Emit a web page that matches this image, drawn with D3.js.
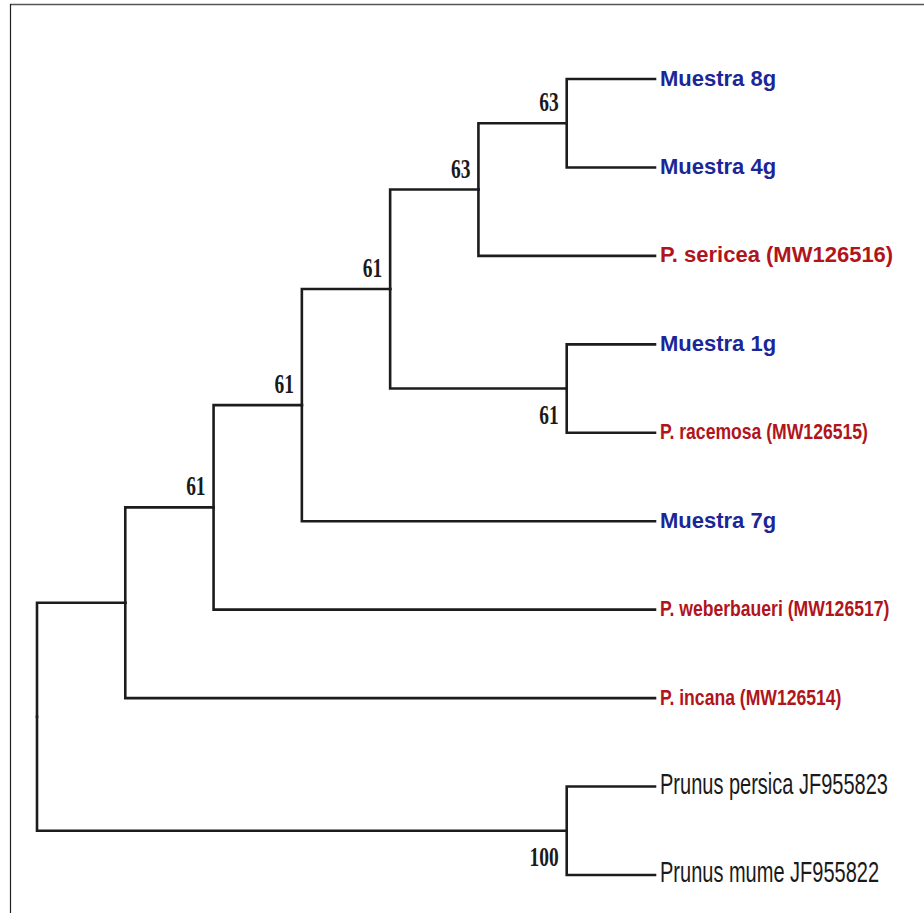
<!DOCTYPE html>
<html>
<head>
<meta charset="utf-8">
<script src="https://cdn.jsdelivr.net/npm/d3@7"></script>
<style>
  html, body { margin: 0; padding: 0; background: #fff; }
  svg { display: block; }
</style>
</head>
<body>
<svg id="tree-svg" width="924" height="913"></svg>
<script>
// tree topology: every node and its parent, listed top to bottom
const nodeIds = [
  "root", "n1", "n2", "n3", "n4", "n5", "n6",
  "Muestra 8g", "Muestra 4g", "P. sericea (MW126516)",
  "n7", "Muestra 1g", "P. racemosa (MW126515)",
  "Muestra 7g", "P. weberbaueri (MW126517)", "P. incana (MW126514)",
  "n8", "Prunus persica JF955823", "Prunus mume JF955822",
];
const parentIds = [
  "", "root", "n1", "n2", "n3", "n4", "n5",
  "n6", "n6", "n5",
  "n4", "n7", "n7",
  "n3", "n2", "n1",
  "root", "n8", "n8",
];
// bootstrap support per node (null = not shown)
const support = [
  null, null, 61, 61, 61, 63, 63,
  null, null, null,
  61, null, null,
  null, null, null,
  100, null, null,
];

const sampleTaxa = ["Muestra 8g", "Muestra 4g", "Muestra 1g", "Muestra 7g"];
const referenceTaxa = [
  "P. sericea (MW126516)", "P. racemosa (MW126515)",
  "P. weberbaueri (MW126517)", "P. incana (MW126514)",
];
const outgroupTaxa = ["Prunus persica JF955823", "Prunus mume JF955822"];

const svg = d3.select("#tree-svg");

const rows = nodeIds.map((id, i) => ({ id, parent: parentIds[i] || null, support: support[i] }));
const root = d3.stratify().id((d) => d.id).parentId((d) => d.parent)(rows);

d3.cluster().size([1, 1]).separation(() => 1)(root);

const xScale = d3.scaleLinear().domain([0, 1]).range([37, 655]);
const yScale = d3.scaleLinear()
  .domain(d3.extent(root.leaves(), (d) => d.x))
  .range([79, 875]);

// frame
svg.append("line")
  .attr("x1", 10).attr("x2", 924).attr("y1", 4.5).attr("y2", 4.5)
  .attr("stroke", "#555").attr("stroke-width", 1.4);
svg.append("line")
  .attr("x1", 10.5).attr("x2", 10.5).attr("y1", 4).attr("y2", 913)
  .attr("stroke", "#222").attr("stroke-width", 1.2);

const linkLayer = svg.append("g")
  .attr("fill", "none")
  .attr("stroke", "#1c1c1c")
  .attr("stroke-width", 2.6)
  .attr("stroke-linecap", "square")
  .attr("stroke-linejoin", "miter");

linkLayer.selectAll("path")
  .data(root.links())
  .join("path")
  .attr("d", (d) => {
    const px = xScale(d.source.y);
    const py = yScale(d.source.x);
    const cx = xScale(d.target.y);
    const cy = yScale(d.target.x);
    return `M ${px} ${py} V ${cy} H ${cx}`;
  });

function labelStyle(name) {
  if (sampleTaxa.includes(name)) {
    return { fill: "#1b2698", family: "'Liberation Sans', Arial, sans-serif", weight: "bold", size: 22, sx: 1, dy: 6.5 };
  }
  if (referenceTaxa.includes(name)) {
    const sx = name.startsWith("P. sericea") ? 1 : 0.8;
    return { fill: "#b0151c", family: "'Liberation Sans', Arial, sans-serif", weight: "bold", size: 22, sx, dy: 6.5 };
  }
  return { fill: "#1a1a1a", family: "'Liberation Sans', Arial, sans-serif", weight: "normal", size: 29, sx: 0.69, dy: 7 };
}

svg.append("g")
  .selectAll("text")
  .data(root.leaves())
  .join("text")
  .each(function (d) {
    const s = labelStyle(d.id);
    d3.select(this)
      .attr("transform", `translate(${xScale(d.y) + 5},${yScale(d.x) + s.dy}) scale(${s.sx},1)`)
      .attr("fill", s.fill)
      .attr("font-family", s.family)
      .attr("font-weight", s.weight)
      .attr("font-size", s.size)
      .text(d.id);
  });

// support values: above the stem for first children, below for the others
svg.append("g")
  .attr("font-family", "'Liberation Serif', 'Times New Roman', serif")
  .attr("font-weight", "bold")
  .attr("font-size", 27)
  .attr("fill", "#1a1a1a")
  .attr("text-anchor", "end")
  .selectAll("text")
  .data(root.descendants().filter((d) => d.data.support != null))
  .join("text")
  .attr("transform", (d) => {
    const first = d.parent.children[0] === d;
    const x = xScale(d.y) - 8;
    const y = yScale(d.x) + (first ? -12 : 35);
    return `translate(${x},${y}) scale(0.72,1)`;
  })
  .text((d) => d.data.support);
</script>
</body>
</html>
